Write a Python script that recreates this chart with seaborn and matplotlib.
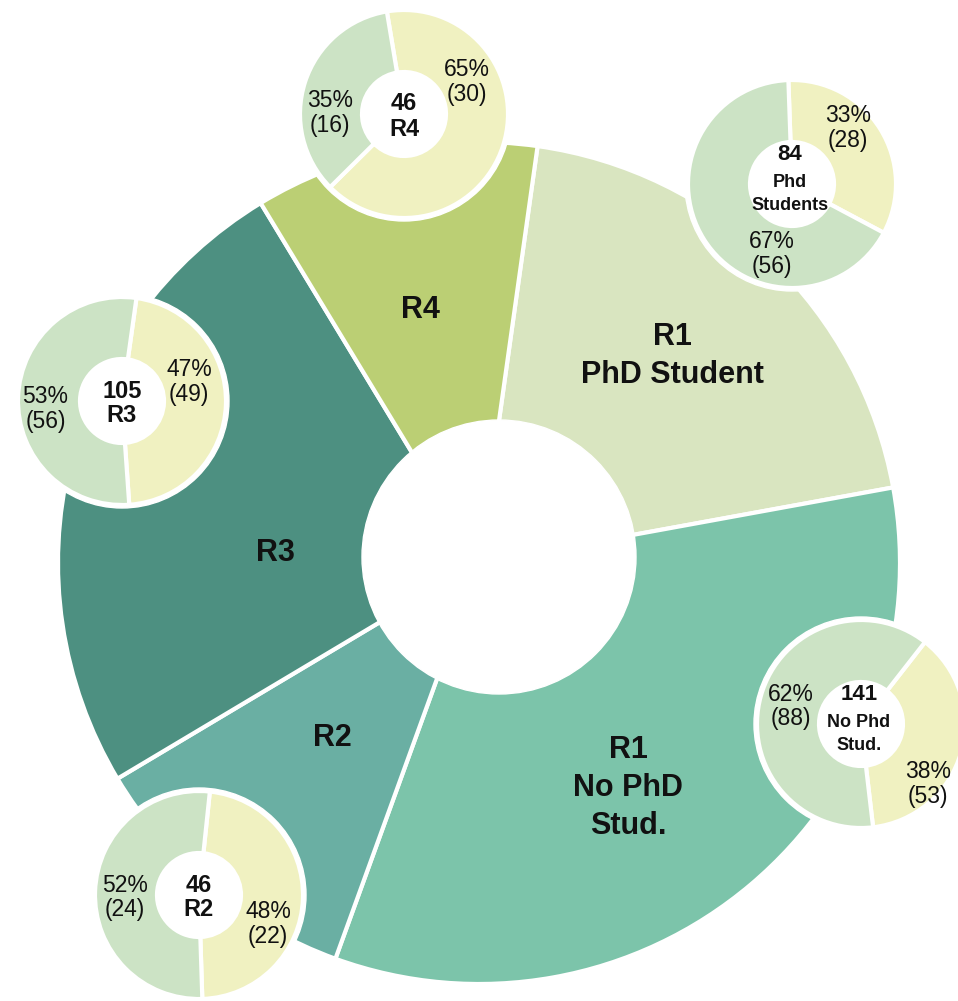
import numpy as np
import matplotlib.pyplot as plt
import seaborn as sns
from matplotlib.patches import Circle

# main ring: groups, clockwise from the top
group_labels = ["R1\nPhD Student", "R1\nNo PhD\nStud.", "R2", "R3", "R4"]
group_totals = [84, 141, 46, 105, 46]

# small donuts (same order as the groups)
sub_names = ["Phd\nStudents", "No Phd\nStud.", "R2", "R3", "R4"]
sub_yellow = [28, 53, 22, 49, 30]
sub_green = [56, 88, 24, 56, 16]

sns.set_theme(style="white")
plt.rcParams['font.family'] = ['Liberation Sans', 'DejaVu Sans']

group_colors = sns.color_palette(["#d9e5c0", "#7cc4aa", "#6aafa3", "#4d9081", "#bbcf74"])
yellow, green = "#f0f1c1", "#cce3c5"
ink = "#111111"

W, H = 958, 1001

# layout in pixel coordinates (y going down)
big_center = (479, 563)
big_radius = 421
hole_center = (499, 557)
hole_radius = 137
big_label_pos = [(672, 356), (628, 788), (332, 738), (275, 553), (420, 310)]
big_start = 8  # degrees clockwise from the top

sub_centers = [(792, 184), (861, 724), (199, 895), (122, 401), (404, 114)]
sub_radius = 104
sub_hole = 42
sub_start = [-2, 38, 6, 8, -9.5]
# where the percentage labels sit: (angle clockwise from top, distance)
sub_label_yellow = [(45, 79), (132, 90), (113, 75), (74, 70), (63, 71)]
sub_label_green = [(196, 73), (284, 72), (268, 74), (264, 77), (271, 74)]


def flip(x, y):
    return x, H - y


def polar(c, ang, r):
    cx, cy = flip(*c)
    a = np.deg2rad(ang)
    return cx + r * np.sin(a), cy + r * np.cos(a)


fig = plt.figure(figsize=(W / 100, H / 100), dpi=100)
ax = fig.add_axes([0, 0, 1, 1])

ax.pie(group_totals, colors=group_colors, startangle=90 - big_start,
       counterclock=False, radius=big_radius, center=flip(*big_center),
       wedgeprops=dict(edgecolor="white", linewidth=3, zorder=1))
ax.add_patch(Circle(flip(*hole_center), hole_radius, color="white", zorder=2))

for lab, pos in zip(group_labels, big_label_pos):
    ax.text(*flip(*pos), lab, ha="center", va="center", fontsize=22,
            fontweight="bold", color=ink, linespacing=1.35, zorder=6)

for i in range(len(sub_names)):
    c = sub_centers[i]
    vals = [sub_yellow[i], sub_green[i]]
    tot = sum(vals)
    ax.add_patch(Circle(flip(*c), sub_radius + 3, color="white", zorder=3))
    ax.pie(vals, colors=[yellow, green], startangle=90 - sub_start[i],
           counterclock=False, radius=sub_radius, center=flip(*c),
           wedgeprops=dict(width=sub_radius - sub_hole, edgecolor="white",
                           linewidth=3, zorder=4))
    for v, (ang, r) in zip(vals, [sub_label_yellow[i], sub_label_green[i]]):
        ax.text(*polar(c, ang, r), f"{round(v / tot * 100)}%\n({v})",
                ha="center", va="center", fontsize=16.5, color=ink,
                linespacing=1.1, zorder=6)
    cx, cy = c
    if "\n" in sub_names[i]:
        ax.text(*flip(cx - 2, cy - 29), str(tot), ha="center", va="center",
                fontsize=16, fontweight="bold", color=ink, zorder=6)
        ax.text(*flip(cx - 2, cy + 10), sub_names[i], ha="center", va="center",
                fontsize=13, fontweight="bold", color=ink, linespacing=1.45, zorder=6)
    else:
        ax.text(*flip(cx, cy - 10), str(tot), ha="center", va="center",
                fontsize=17, fontweight="bold", color=ink, zorder=6)
        ax.text(*flip(cx, cy + 15), sub_names[i], ha="center", va="center",
                fontsize=17, fontweight="bold", color=ink, zorder=6)

ax.set_xlim(0, W)
ax.set_ylim(0, H)
ax.set_aspect("equal")
ax.axis("off")

fig.savefig("out.png", dpi=100)
